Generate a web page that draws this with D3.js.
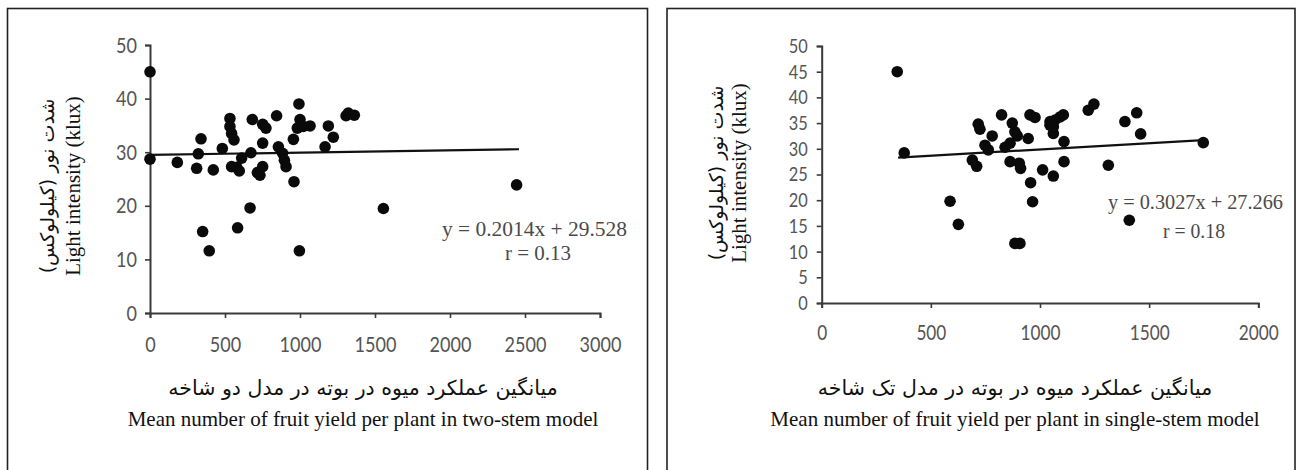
<!DOCTYPE html>
<html>
<head>
<meta charset="utf-8">
<script src="https://cdn.jsdelivr.net/npm/d3@7/dist/d3.min.js"></script>
<style>
  html, body { margin: 0; padding: 0; background: #fff; }
  svg { display: block; }
  .tick text { font-family: "Lato", "DejaVu Sans", sans-serif; fill: #555; }
  .serif { font-family: "Liberation Serif", "Times New Roman", serif; }
  .fa { font-family: "DejaVu Sans", sans-serif; }
</style>
</head>
<body>
<svg id="chart" width="1301" height="470"></svg>
<script>
// Two-stem model: mean fruit yield per plant vs light intensity (klux)
const twoStemYield = [0, 0, 182, 311, 322, 340, 351, 395, 422, 482, 533, 533, 544, 560, 544, 578, 595, 611, 584, 667,
  673, 682, 716, 733, 751, 751, 751, 773, 844, 856, 884, 896, 907, 960, 956, 982, 993, 1000, 1022, 996,
  1067, 1167, 1189, 1222, 1307, 1322, 1362, 1556, 2444];
const twoStemLight = [45.0, 28.7, 28.1, 27.0, 29.7, 32.5, 15.2, 11.6, 26.7, 30.7, 36.3, 34.8, 33.5, 32.3, 27.3, 27.2, 26.5, 28.9, 15.9, 19.6,
  29.9, 36.1, 26.2, 25.7, 27.3, 31.7, 35.2, 34.5, 36.8, 31.0, 29.8, 28.5, 27.3, 24.5, 32.4, 34.5, 39.0, 36.1, 34.8, 11.6,
  34.9, 31.0, 34.9, 32.8, 36.8, 37.3, 36.9, 19.5, 23.9];

// Single-stem model
const singleStemYield = [346, 378, 588, 626, 690, 710, 717, 725, 763, 781, 748, 824, 840, 863, 873, 863, 885, 896, 885, 908,
  905, 911, 946, 957, 966, 954, 977, 1012, 1046, 1061, 1069, 1061, 1046, 1061, 1092, 1107, 1110, 1110, 1221, 1247,
  1313, 1389, 1443, 1461, 1409, 1748];
const singleStemLight = [45.0, 29.2, 19.8, 15.3, 27.8, 26.6, 34.8, 33.8, 29.8, 32.5, 30.7, 36.6, 30.3, 27.5, 35.0, 31.1, 33.3, 32.5, 11.6, 11.6,
  27.2, 26.2, 32.0, 23.4, 19.7, 36.6, 36.1, 25.9, 34.6, 24.7, 35.6, 33.0, 35.3, 34.3, 36.2, 36.6, 31.4, 27.5, 37.5, 38.7,
  26.8, 35.3, 37.0, 32.9, 16.1, 31.2];

// Fitted trend lines: [x, y] at each end
const twoStemTrend = [[0, 29.5], [2460, 30.55]];
const singleStemTrend = [[350, 28.3], [1748, 31.7]];

const twoStemXTicks = [0, 500, 1000, 1500, 2000, 2500, 3000];
const twoStemYTicks = [0, 10, 20, 30, 40, 50];
const singleStemXTicks = [0, 500, 1000, 1500, 2000];
const singleStemYTicks = [0, 5, 10, 15, 20, 25, 30, 35, 40, 45, 50];

const yTitleFa = "شدت نور (کیلولوکس)";
const yTitleEn = "Light intensity (klux)";

const svg = d3.select("#chart");
const TICK = 5;      // tick length
const NARROW = 0.82; // horizontal squeeze of tick labels

// Panel frames
svg.append("rect").attr("x", 7.5).attr("y", 8.5).attr("width", 640).attr("height", 470)
  .attr("fill", "none").attr("stroke", "#222").attr("stroke-width", 1.6);
svg.append("rect").attr("x", 667).attr("y", 8.5).attr("width", 628).attr("height", 470)
  .attr("fill", "none").attr("stroke", "#222").attr("stroke-width", 1.6);

function drawPanel(cfg) {
  const g = svg.append("g");
  const x = d3.scaleLinear().domain(cfg.xDomain).range(cfg.xRange);
  const y = d3.scaleLinear().domain(cfg.yDomain).range(cfg.yRange);

  const xAxis = g.append("g")
    .attr("transform", `translate(0,${cfg.yRange[0]})`)
    .call(d3.axisBottom(x).tickValues(cfg.xTicks).tickSize(TICK).tickPadding(cfg.xPad).tickFormat(d3.format("d")));
  const yAxis = g.append("g")
    .attr("transform", `translate(${cfg.xRange[0]},0)`)
    .call(d3.axisLeft(y).tickValues(cfg.yTicks).tickSize(TICK).tickPadding(cfg.yPad).tickFormat(d3.format("d")));
  [xAxis, yAxis].forEach(a => {
    a.select(".domain").attr("stroke", "#3a3a3a").attr("stroke-width", 2);
    a.selectAll(".tick line").attr("stroke", "#3a3a3a").attr("stroke-width", 1.6);
  });
  xAxis.selectAll(".tick text").attr("font-size", cfg.xTickSize)
    .attr("transform", `scale(${NARROW},1)`);
  yAxis.selectAll(".tick text").attr("font-size", cfg.yTickSize)
    .attr("x", -(TICK + cfg.yPad) / NARROW)
    .attr("transform", `scale(${NARROW},1)`);

  // Trend line
  g.append("line")
    .attr("x1", x(cfg.trend[0][0])).attr("y1", y(cfg.trend[0][1]))
    .attr("x2", x(cfg.trend[1][0])).attr("y2", y(cfg.trend[1][1]))
    .attr("stroke", "#111").attr("stroke-width", 2.2);

  // Observations
  g.selectAll("circle.obs").data(cfg.xs.map((v, i) => [v, cfg.ys[i]])).join("circle")
    .attr("class", "obs")
    .attr("cx", d => x(d[0])).attr("cy", d => y(d[1]))
    .attr("r", 5.8).attr("fill", "#0a0a0a");

  // Equation and correlation
  g.append("text").attr("class", "serif")
    .attr("x", cfg.eqX).attr("y", cfg.eqY)
    .attr("font-size", 20).attr("fill", "#4a4a4a")
    .attr("textLength", cfg.eqLen).attr("lengthAdjust", "spacingAndGlyphs")
    .text(cfg.eq);
  g.append("text").attr("class", "serif")
    .attr("x", cfg.rX).attr("y", cfg.rY)
    .attr("font-size", 20).attr("fill", "#4a4a4a")
    .attr("textLength", cfg.rLen).attr("lengthAdjust", "spacingAndGlyphs")
    .text(cfg.r);

  // Y-axis title (two rotated lines)
  const yt = g.append("g").attr("transform", `translate(${cfg.yTitleX},${cfg.yTitleY}) rotate(-90)`);
  yt.append("text").attr("class", "fa").attr("text-anchor", "middle")
    .attr("x", 0).attr("y", 0).attr("font-size", 19).attr("fill", "#111")
    .attr("direction", "rtl")
    .text(yTitleFa);
  yt.append("text").attr("class", "serif").attr("text-anchor", "middle")
    .attr("x", 0).attr("y", cfg.yTitleGap).attr("font-size", 21).attr("fill", "#111")
    .text(yTitleEn);

  // X-axis titles
  g.append("text").attr("class", "fa").attr("text-anchor", "middle")
    .attr("x", cfg.xTitleX).attr("y", 395).attr("font-size", 20.5).attr("fill", "#111")
    .attr("direction", "rtl")
    .text(cfg.xTitleFa);
  g.append("text").attr("class", "serif").attr("text-anchor", "middle")
    .attr("x", cfg.xTitleX).attr("y", 426).attr("font-size", 21).attr("fill", "#111")
    .text(cfg.xTitleEn);
}

drawPanel({
  xs: twoStemYield, ys: twoStemLight, trend: twoStemTrend,
  xDomain: [0, 3000], xRange: [150, 600],
  yDomain: [0, 50], yRange: [313, 45],
  xTicks: twoStemXTicks, yTicks: twoStemYTicks,
  xPad: 18, yPad: 8, xTickSize: 22, yTickSize: 22,
  eq: "y = 0.2014x + 29.528", eqX: 442, eqY: 236, eqLen: 185,
  r: "r = 0.13", rX: 505, rY: 260, rLen: 66,
  yTitleX: 54, yTitleY: 186, yTitleGap: 26,
  xTitleX: 363,
  xTitleFa: "میانگین عملکرد میوه در بوته در مدل دو شاخه",
  xTitleEn: "Mean number of fruit yield per plant in two-stem model"
});

drawPanel({
  xs: singleStemYield, ys: singleStemLight, trend: singleStemTrend,
  xDomain: [0, 2000], xRange: [821.7, 1258.3],
  yDomain: [0, 50], yRange: [303, 46],
  xTicks: singleStemXTicks, yTicks: singleStemYTicks,
  xPad: 17, yPad: 9, xTickSize: 21, yTickSize: 20,
  eq: "y = 0.3027x + 27.266", eqX: 1108, eqY: 209, eqLen: 175,
  r: "r = 0.18", rX: 1163, rY: 238, rLen: 62,
  yTitleX: 723, yTitleY: 173, yTitleGap: 23,
  xTitleX: 1015,
  xTitleFa: "میانگین عملکرد میوه در بوته در مدل تک شاخه",
  xTitleEn: "Mean number of fruit yield per plant in single-stem model"
});
</script>
</body>
</html>
